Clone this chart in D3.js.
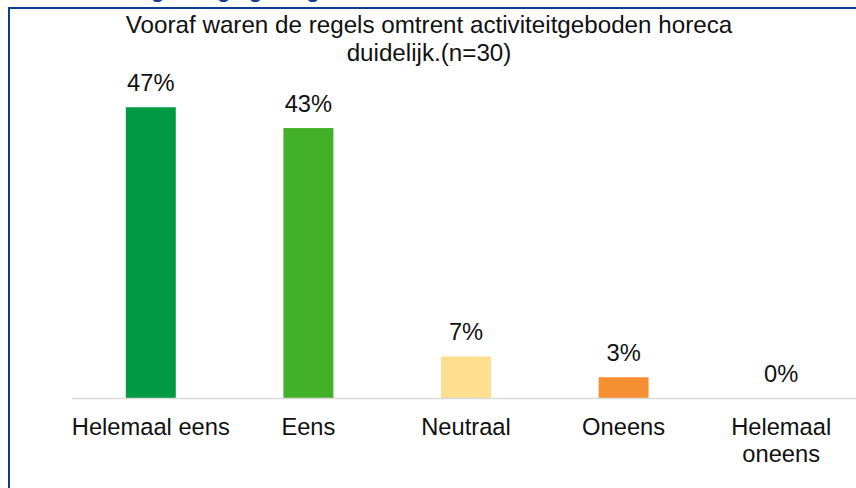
<!DOCTYPE html>
<html>
<head>
<meta charset="utf-8">
<script src="https://cdn.jsdelivr.net/npm/d3@7"></script>
<style>
  body { margin: 0; background: #fff; }
  svg { display: block; font-family: Arial, 'Liberation Sans', sans-serif; }
</style>
</head>
<body>
<div id="chart"></div>
<script>
'use strict';

var categories = ['Helemaal eens', 'Eens', 'Neutraal', 'Oneens', 'Helemaal oneens'];
var values = [46.67, 43.33, 6.67, 3.33, 0];
var colors = ['#009a44', '#43b02a', '#fedf8f', '#f58f32', '#a6a6a6'];
var titleLines = ['Vooraf waren de regels omtrent activiteitgeboden horeca', 'duidelijk.(n=30)'];

var width = 856, height = 488;
var margin = {left: 72, right: -4, top: 86.5, bottom: 90};

var svg = d3.select('#chart').append('svg')
  .attr('width', width)
  .attr('height', height);

// frame (only top and left edges are visible)
svg.append('text')
  .attr('x', 58)
  .attr('y', -3)
  .style('font-size', '22px')
  .style('font-weight', 'bold')
  .style('fill', '#103c90')
  .text('Bevindingen regelgeving');

svg.append('line')
  .attr('x1', 8).attr('x2', width)
  .attr('y1', 8).attr('y2', 8)
  .attr('stroke', '#103c90')
  .attr('stroke-width', 2);

svg.append('line')
  .attr('x1', 9).attr('x2', 9)
  .attr('y1', 7).attr('y2', height)
  .attr('stroke', '#103c90')
  .attr('stroke-width', 2);

var x = d3.scaleBand()
  .domain(categories)
  .range([margin.left, width - margin.right])
  .paddingInner(0.683)
  .paddingOuter(0.3415);

var y = d3.scaleLinear()
  .domain([0, 50])
  .range([height - margin.bottom, margin.top]);

// title
svg.append('g').selectAll('text')
  .data(titleLines)
  .enter()
  .append('text')
  .attr('x', 429)
  .attr('y', function(d, i) { return 33 + i * 28; })
  .attr('text-anchor', 'middle')
  .style('font-size', '24.2px')
  .style('fill', '#111')
  .text(function(d) { return d; });

// bars
svg.append('g').selectAll('rect')
  .data(values)
  .enter()
  .append('rect')
  .attr('x', function(d, i) { return x(categories[i]); })
  .attr('width', x.bandwidth())
  .attr('y', function(d) { return y(d); })
  .attr('height', function(d) { return y(0) - y(d); })
  .attr('fill', function(d, i) { return colors[i]; });

// baseline
svg.append('line')
  .attr('x1', margin.left).attr('x2', width)
  .attr('y1', y(0) + 0.5).attr('y2', y(0) + 0.5)
  .attr('stroke', '#d9d9d9')
  .attr('stroke-width', 1.5);

// value labels
svg.append('g').selectAll('text')
  .data(values)
  .enter()
  .append('text')
  .attr('x', function(d, i) { return x(categories[i]) + x.bandwidth() / 2; })
  .attr('y', function(d) { return y(d) - 16; })
  .attr('text-anchor', 'middle')
  .style('font-size', '23.7px')
  .style('fill', '#111')
  .text(function(d) { return Math.round(d) + '%'; });

// category labels, wrapped like the original
var wrap = {'Helemaal oneens': ['Helemaal', 'oneens']};
var catLabel = svg.append('g').selectAll('text')
  .data(categories)
  .enter()
  .append('text')
  .attr('text-anchor', 'middle')
  .style('font-size', '23.7px')
  .style('fill', '#111');

catLabel.each(function(d) {
  var lines = wrap[d] || [d];
  var cx = x(d) + x.bandwidth() / 2;
  d3.select(this).selectAll('tspan')
    .data(lines)
    .enter()
    .append('tspan')
    .attr('x', cx)
    .attr('y', function(l, i) { return 434.5 + i * 27; })
    .text(function(l) { return l; });
});
</script>
</body>
</html>
